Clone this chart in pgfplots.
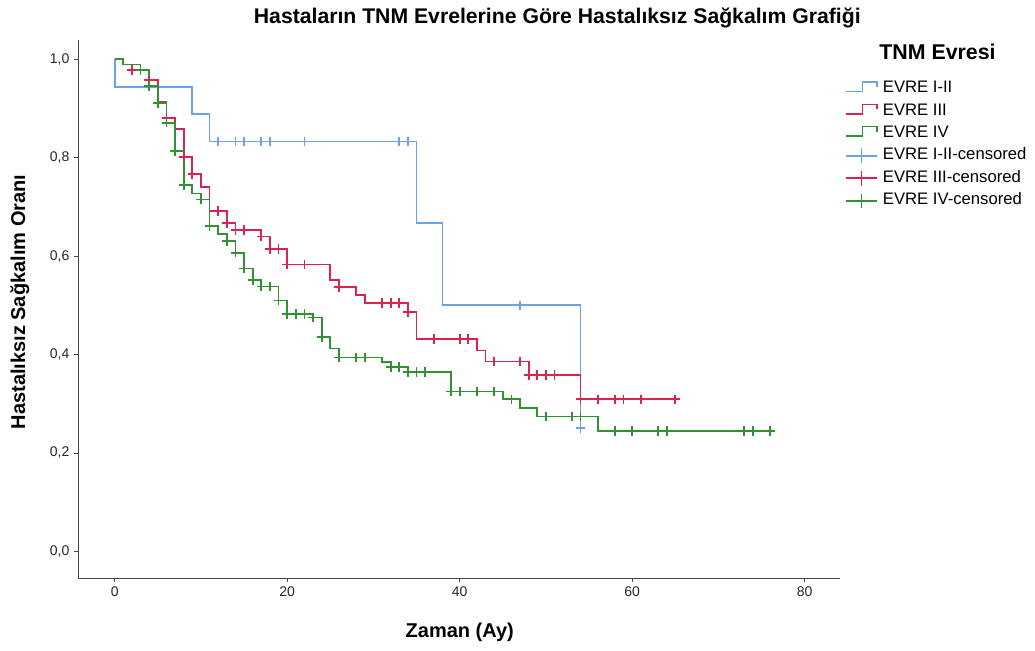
\documentclass[border=0pt]{standalone}
\usepackage{fontspec}
\setmainfont{Liberation Sans}
\usepackage{pgfplots}
\usepackage{pgfplotstable}
\pgfplotsset{compat=1.18}

\definecolor{evreA}{RGB}{108,163,230}
\definecolor{evreB}{RGB}{216,36,78}
\definecolor{evreC}{RGB}{50,145,50}
\definecolor{axisgray}{RGB}{70,70,70}

% Kaplan-Meier survival steps (time in months, survival proportion)
\pgfplotstableread{
x y
0 1.000
0 0.944
9 0.889
11 0.833
35 0.667
38 0.500
54 0.250
}\stepA
\pgfplotstableread{
x y
0 1.000
1 0.989
2 0.978
4 0.957
5 0.914
6 0.880
7 0.858
8 0.802
9 0.767
10 0.741
11 0.692
13 0.667
14 0.653
17 0.640
18 0.614
20 0.583
25 0.551
26 0.537
28 0.521
29 0.505
34 0.487
35 0.431
42 0.408
43 0.386
48 0.358
54 0.309
65 0.309
}\stepB
\pgfplotstableread{
x y
0 1.000
1 0.989
3 0.978
4 0.945
5 0.911
6 0.871
7 0.814
8 0.745
9 0.727
10 0.715
11 0.661
12 0.645
13 0.631
14 0.607
15 0.575
16 0.551
17 0.538
19 0.510
20 0.482
23 0.475
24 0.436
25 0.412
26 0.394
31 0.385
32 0.375
34 0.365
39 0.325
45 0.309
47 0.291
49 0.274
56 0.245
76 0.245
}\stepC

% Censored observations
\pgfplotstableread{
x y
12 0.833
14 0.833
15 0.833
17 0.833
18 0.833
22 0.833
33 0.833
34 0.833
47 0.500
54 0.250
}\censA
\pgfplotstableread{
x y
2 0.978
4 0.957
6 0.880
8 0.802
9 0.767
12 0.692
13 0.667
14 0.653
15 0.653
17 0.640
18 0.614
19 0.614
20 0.583
22 0.583
26 0.537
31 0.505
32 0.505
33 0.505
34 0.487
37 0.431
40 0.431
41 0.431
44 0.386
47 0.386
48 0.358
49 0.358
50 0.358
51 0.358
54 0.309
56 0.309
58 0.309
59 0.309
61 0.309
65 0.309
}\censB
\pgfplotstableread{
x y
3 0.978
4 0.945
5 0.911
6 0.871
7 0.814
8 0.745
10 0.715
11 0.661
13 0.631
14 0.607
15 0.575
16 0.551
17 0.538
18 0.538
19 0.510
20 0.482
21 0.482
22 0.482
23 0.475
24 0.436
26 0.394
28 0.394
29 0.394
32 0.375
33 0.375
34 0.365
35 0.365
36 0.365
39 0.325
40 0.325
42 0.325
44 0.325
46 0.309
50 0.274
53 0.274
54 0.274
58 0.245
60 0.245
63 0.245
64 0.245
73 0.245
74 0.245
76 0.245
}\censC

\pgfplotsset{
  stepicon/.style={legend image code/.code={
    \draw[#1, line width=1.3pt] (0pt,-2pt) -- (12.5pt,-2pt) -- (12.5pt,5pt) -- (23.5pt,5pt) -- (23.5pt,1.3pt);}},
  censicon/.style={legend image code/.code={
    \draw[#1, line width=1.3pt] (0pt,0pt) -- (23.5pt,0pt);
    \draw[#1, line width=1.3pt] (11.75pt,-5.5pt) -- (11.75pt,5.5pt);}},
}

\begin{document}
\begin{tikzpicture}
\path[use as bounding box] (0,0) rectangle (776.25pt,487.5pt);
\begin{axis}[
  at={(58.5pt,54pt)}, anchor=south west,
  scale only axis, width=571.5pt, height=403.5pt,
  xmin=-4.26, xmax=84.1, ymin=-0.054, ymax=1.039,
  axis x line*=bottom, axis y line*=left,
  axis line style={axisgray, line width=0.6pt, -},
  xtick={0,20,40,60,80}, ytick={0,0.2,0.4,0.6,0.8,1.0},
  tick align=outside, major tick length=3pt,
  tick style={axisgray, line width=0.6pt},
  /pgf/number format/assume math mode=true,
  ticklabel style={font=\fontsize{10.5}{12}\selectfont, text=black!85},
  y tick label style={/pgf/number format/.cd, fixed, fixed zerofill, precision=1, use comma},
  clip=false,
  every axis title shift=0pt,
  title={Hastaların TNM Evrelerine Göre Hastalıksız Sağkalım Grafiği},
  title style={at={(axis description cs:0.629,1.0409)}, anchor=center,
    font=\bfseries\fontsize{15.9}{18}\selectfont},
  xlabel={Zaman (Ay)},
  xlabel style={at={(axis description cs:0.501,-0.1004)}, anchor=center,
    font=\bfseries\fontsize{15}{18}\selectfont},
  ylabel={Hastalıksız Sağkalım Oranı},
  ylabel style={at={(axis description cs:-0.0761,0.513)}, anchor=center,
    font=\bfseries\fontsize{15}{18}\selectfont},
  legend style={at={(axis description cs:1.0066,0.924)}, anchor=north west,
    draw=none, fill=none, inner sep=0pt, outer sep=0pt,
    font=\fontsize{12.5}{15}\selectfont, row sep=4.65pt,
    nodes={inner sep=0pt, text height=9pt, text depth=3pt},
    /tikz/every odd column/.append style={column sep=3.6pt}},
  legend cell align=left,
]
\addplot[const plot, evreA, line width=1.3pt, stepicon=evreA] table[x=x,y=y] {\stepA};
\addplot[const plot, evreB, line width=1.3pt, stepicon=evreB] table[x=x,y=y] {\stepB};
\addplot[const plot, evreC, line width=1.3pt, stepicon=evreC] table[x=x,y=y] {\stepC};
\addplot[only marks, mark=+, mark size=3.6pt, evreA, line width=1.3pt, censicon=evreA] table[x=x,y=y] {\censA};
\addplot[only marks, mark=+, mark size=3.6pt, evreB, line width=1.3pt, censicon=evreB] table[x=x,y=y] {\censB};
\addplot[only marks, mark=+, mark size=3.6pt, evreC, line width=1.3pt, censicon=evreC] table[x=x,y=y] {\censC};
\legend{EVRE I-II, EVRE III, EVRE IV, EVRE I-II-censored, EVRE III-censored, EVRE IV-censored}
\node[anchor=center, font=\bfseries\fontsize{16}{19}\selectfont] at (axis description cs:1.128,0.978) {TNM Evresi};
\end{axis}
\end{tikzpicture}
\end{document}
